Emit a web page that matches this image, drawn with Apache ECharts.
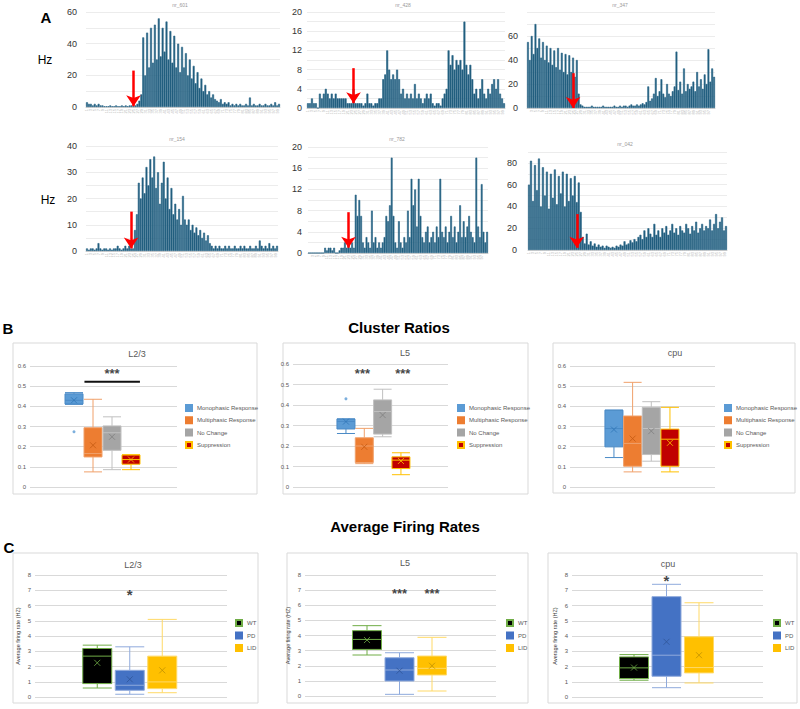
<!DOCTYPE html>
<html><head><meta charset="utf-8">
<script src="https://cdn.jsdelivr.net/npm/echarts@6/dist/echarts.min.js"></script>
<style>html,body{margin:0;padding:0;background:#fff}#c{width:800px;height:709px}</style>
</head><body><div id="c"></div>
<script>
// ================= DATA =================
// Panel A: firing-rate histograms (Hz per bin)
const nr601 = [3,2,2,1,2,1,2,1,1,0.5, 0.5,0.5,1,0.5,0.5,1,0.5,0.5,1,0.5, 1,0.5,1,1,0.5,1,2,4,8,
  44,20,47,25,50,28,52,30,56,32,50,35,54,30,48,28,45,25,40,22,
  38,25,34,20,30,18,26,15,22,12,18,10,14,8,10,6,8,5,
  4,3,5,2,3,2,3,1,2,1, 2,1,2,1,1,2,1,6,1,2, 1,1,2,1,1,2,1,1,2,1, 3,1,2];
const nr428 = [1,1,2,1,1,0,
  3,2,3,4,3,2,3,2,3,2,2,2,2,2,1,
  1,1,4,1,1,1,1,0.5,1,3,1,1,0.5,1,1,2,2,
  6,7,12,8,6,7,6,8,6,
  3,4,2,3,2,3,2,5,
  2,3,2,1,2,3,2,3,1,
  0.5,1,1,0.5,2,3,4,
  12,9,11,8,10,9,10,8,18,
  9,7,9,6,
  3,4,2,4,6,3,2,4,3,5,6,4,6,3,2,1];
const nr347 = [55,40,60,45,70,50,58,42,55,40,52,38,50,36,
  48,34,50,32,46,30,45,28,44,30,42,26,40,
  12,3,2,
  1,1,1,1,2,1,1,1,1,1, 2,1,1,1,1,1,2,1,1,2, 1,2,2,1,2,3,2,2,3,2, 3,4,3,
  5,18,6,8,12,25,10,14,24,12, 9,20,12,10,14,18,47,15,22,12, 33,14,20,16,18,22,14,30,18,24, 16,28,20,49,22,33,26];
const nr154 = [1,0.5,1,1,0.5,1,3,1,0.5,1, 1,0.5,1,0.5,1,1,2,1,0.5,1, 2,1,2,1,1,
  8,14,
  26,20,28,22,32,25,35,28,36,24,
  30,18,26,34,20,28,16,24,
  14,18,12,16,10,21,12,
  10,12,8,10,7,9,6,8,5,7,4,6,
  3,2,1,2,1,2,1,1,2,1, 2,1,1,2,1,1,2,1,2,1, 1,2,1,1,2,1,4,2,1,2, 1,3,1,2,1,2];
const nr782 = [0,0,0,0,0,0,0,0,0,
  1,0.5,1,1,0.5,1,
  0,0,0.5,1,
  1,2,1,2,1,2,1,
  11,7,10,7,
  2,1,3,2,1,8,2,3,1,2,1,2,3,
  7,6,9,18,7,
  2,1,6,2,1,3,2,
  8,3,14,9,12,5,14,7,
  3,2,4,5,2,3,4,2,5,3,14,4,
  3,5,2,4,7,3,5,2,4,9,3,
  6,3,5,7,4,3,2,
  18,5,3,13,4,2,4];
const nr042 = [60,82,45,78,55,84,40,76,50,72,38,70,48,74,
  42,68,52,72,40,70,45,66,50,68,44,62,35,
  12,6,15,
  5,8,4,6,3,5,3,4,2,4,3,2,3,2,4,3,
  5,4,8,5,6,9,7,10,8,12,
  14,10,18,12,20,15,12,24,14,18, 12,20,16,22,14,18,24,16,20,14,
  22,18,16,24,20,15,22,18,26,16, 20,24,18,22,20,28,18,24,33,20, 26,30,18,22];
// stimulus arrows: [bin index, arrow top (Hz), arrow tip (Hz)]
const arrow601 = [24, 23, 0.5];
const arrow428 = [23, 8.3, 1];
const arrow347 = [24, 29, 0];
const arrow154 = [23, 15, 1];
const arrow782 = [22, 7.7, 1];
const arrow042 = [24, 33, 2];

// Panel B: cluster ratios  [min, Q1, median, Q3, max]
const clusterGroups = ['Monophasic Response', 'Multiphasic Response', 'No Change', 'Suppression'];
const ratioL23 = [[0.41,0.411,0.43,0.462,0.468],[0.075,0.149,0.166,0.294,0.435],[0.086,0.182,0.269,0.303,0.348],[0.086,0.113,0.136,0.159,0.16]];
const ratioL23Mean = [0.43, 0.207, 0.249, 0.136];
const ratioL23Outliers = [[0, 0.274]];
const ratioL5 = [[0.261,0.283,0.32,0.332,0.332],[0.114,0.119,0.20,0.240,0.286],[0.245,0.258,0.368,0.425,0.477],[0.060,0.090,0.131,0.147,0.167]];
const ratioL5Mean = [0.319, 0.196, 0.351, 0.127];
const ratioL5Outliers = [[0, 0.43]];
const ratioCpu = [[0.146,0.199,0.290,0.381,0.381],[0.075,0.103,0.216,0.352,0.519],[0.128,0.161,0.290,0.395,0.423],[0.075,0.103,0.237,0.287,0.395]];
const ratioCpuMean = [0.285, 0.240, 0.277, 0.219];
const ratioCpuOutliers = [];
// significance marks: [x position in group units, y value, text]; bars: [x from, x to, y]
const sigRatioL23 = [[2.5, 0.565, '***']];
const barRatioL23 = [[1.05, 3.97, 0.522]];
const sigRatioL5 = [[1.4, 0.556, '***'], [3.6, 0.556, '***']];
const sigRatioCpu = [];

// Panel C: average firing rates (Hz)
const rateGroups = ['WT', 'PD', 'LID'];
const rateL23 = [[0.59,0.88,2.68,3.18,3.40],[0.18,0.44,0.77,1.75,3.29],[0.28,0.55,0.99,2.68,5.09]];
const rateL23Mean = [2.24, 1.16, 1.75];
const rateL5 = [[2.71,3.08,3.74,4.32,4.65],[0.11,0.99,1.72,2.53,2.86],[0.33,1.39,1.83,2.64,3.88]];
const rateL5Mean = [3.70, 1.67, 2.00];
const rateCpu = [[1.10,1.21,1.91,2.63,2.78],[0.61,1.36,2.74,6.58,7.39],[0.92,1.58,1.93,3.95,6.18]];
const rateCpuMean = [1.93, 3.62, 2.74];
const sigRateL23 = [[1.5, 6.7, '*']];
const sigRateL5 = [[1.5, 6.8, '***'], [2.5, 6.8, '***']];
const sigRateCpu = [[1.5, 7.65, '*']];

// ================= LAYOUT / STYLE =================
const FONT = 'Liberation Sans, Arial, sans-serif';
const binNames = n => Array.from({length: n}, (_, i) => String(i + 1));

const opt = {animation: false, backgroundColor: '#fff', textStyle: {fontFamily: FONT},
  grid: [], xAxis: [], yAxis: [], series: [], legend: [], graphic: []};
const addGrid = g => opt.grid.push(Object.assign({outerBoundsMode: 'none', containLabel: false, show: false}, g)) - 1;
const addX = a => opt.xAxis.push(a) - 1;
const addY = a => opt.yAxis.push(a) - 1;
const addText = (x, y, text, font, fill) => opt.graphic.push({type: 'text', x: x, y: y, silent: true,
  style: {text: text, font: font, fill: fill || '#000', align: 'center', verticalAlign: 'middle', textAlign: 'center', textVerticalAlign: 'middle'}});
const addFrame = (x, y, w, h) => opt.graphic.push({type: 'rect', silent: true, z: -10,
  shape: {x: x, y: y, width: w, height: h}, style: {fill: 'none', stroke: '#d9d9d9', lineWidth: 1}});

// ---------- Panel A ----------
const histLayout = [
  {name: 'nr_601', values: nr601, arrow: arrow601, max: 60, step: 10, every: 20, box: {left: 86, top: 12, width: 194, height: 95}, margin: 9, t: [180, 5]},
  {name: 'nr_428', values: nr428, arrow: arrow428, max: 20, step: 2, every: 4, box: {left: 307, top: 12, width: 198, height: 96}, margin: 5, t: [403, 5]},
  {name: 'nr_347', values: nr347, arrow: arrow347, max: 80, step: 10, every: 20, hideMax: true, box: {left: 527, top: 12, width: 188, height: 96}, margin: 9, t: [620, 5]},
  {name: 'nr_154', values: nr154, arrow: arrow154, max: 40, step: 5, every: 10, box: {left: 86, top: 146, width: 192, height: 105}, margin: 9, t: [177, 139]},
  {name: 'nr_782', values: nr782, arrow: arrow782, max: 20, step: 2, every: 4, box: {left: 308, top: 147, width: 180, height: 106}, margin: 6, t: [397, 139]},
  {name: 'nr_042', values: nr042, arrow: arrow042, max: 90, step: 10, every: 20, box: {left: 528, top: 152, width: 199, height: 98}, margin: 11, t: [625, 144]}
];
histLayout.forEach(h => {
  const gi = addGrid(h.box);
  const names = binNames(h.values.length);
  const xi = addX({type: 'category', gridIndex: gi, data: names,
    axisLine: {show: true, lineStyle: {color: '#d0d0d0', width: 1}}, axisTick: {show: false},
    axisLabel: {fontSize: 4, rotate: 90, color: '#b5b5b5', interval: 1, margin: 2}});
  const yi = addY({type: 'value', gridIndex: gi, min: 0, max: h.max, interval: h.step,
    axisLine: {show: false}, axisTick: {show: false},
    splitLine: {lineStyle: {color: '#ececec', width: 1}},
    axisLabel: {fontSize: 9, color: '#333', margin: h.margin,
      formatter: v => (v % h.every === 0 && !(h.hideMax && v === h.max)) ? String(v) : ''}});
  opt.series.push({type: 'bar', xAxisIndex: xi, yAxisIndex: yi, data: h.values, barCategoryGap: '0%', barGap: '0%',
    itemStyle: {color: '#1e5b7b', borderColor: '#2a6788', borderWidth: 0.6}, silent: true,
    markLine: {silent: true, symbol: ['none', 'arrow'], symbolSize: 11, label: {show: false},
      lineStyle: {color: '#ff0000', width: 2.5, type: 'solid'},
      data: [[{coord: [names[h.arrow[0]], h.arrow[1]]}, {coord: [names[h.arrow[0]], h.arrow[2]]}]]}});
  addText(h.t[0], h.t[1], h.name, '5px ' + FONT, '#999');
});
addText(46, 17, 'A', 'bold 15px ' + FONT);
addText(45, 60, 'Hz', '12px ' + FONT);
addText(48, 200, 'Hz', '12px ' + FONT);

// ---------- Box & whisker charts (panels B and C) ----------
function boxChart(c) {
  const gbg = addGrid(c.bg);
  addX({type: 'category', gridIndex: gbg, data: [''], show: false});
  addY({type: 'value', gridIndex: gbg, min: 0, max: c.max, interval: c.interval,
    axisLine: {show: false}, axisTick: {show: false},
    splitLine: {lineStyle: {color: '#d9d9d9', width: 1}},
    axisLabel: {fontSize: 6, color: '#595959', margin: 4, formatter: c.fmt},
    name: c.yName || '', nameLocation: 'middle', nameGap: 14, nameRotate: 90,
    nameTextStyle: {fontSize: 5.5, color: '#404040'}});
  const gfg = addGrid({left: c.fg.left, width: c.fg.width, top: c.bg.top, height: c.bg.height});
  const xc = addX({type: 'category', gridIndex: gfg, data: c.groups, show: false});
  const xv = addX({type: 'value', gridIndex: gfg, min: 0, max: c.groups.length, show: false});
  const yf = addY({type: 'value', gridIndex: gfg, min: 0, max: c.max, show: false});
  opt.series.push({type: 'boxplot', xAxisIndex: xc, yAxisIndex: yf, boxWidth: [c.boxW, c.boxW], silent: true,
    data: c.stats.map((s, i) => ({value: s, itemStyle: {color: c.colors[i].fill, borderColor: c.colors[i].line, borderWidth: 1}}))});
  opt.series.push({type: 'scatter', xAxisIndex: xc, yAxisIndex: yf, silent: true,
    symbol: 'path://M0,0L10,10M10,0L0,10', symbolSize: 6,
    data: c.means.map((m, i) => ({value: [c.groups[i], m], itemStyle: {color: 'none', borderColor: c.colors[i].mean, borderWidth: 1}}))});
  if (c.outliers.length) opt.series.push({type: 'scatter', xAxisIndex: xc, yAxisIndex: yf, silent: true, symbol: 'circle', symbolSize: 3,
    data: c.outliers.map(o => ({value: [c.groups[o[0]], o[1]], itemStyle: {color: c.colors[o[0]].fill}}))});
  c.groups.forEach((g, i) => opt.series.push({type: 'bar', name: g, xAxisIndex: xc, yAxisIndex: yf, data: [],
    itemStyle: {color: c.colors[i].fill, borderColor: c.colors[i].legendBorder || c.colors[i].fill, borderWidth: 1}}));
  if (c.sig.length) opt.series.push({type: 'scatter', xAxisIndex: xv, yAxisIndex: yf, silent: true, symbolSize: 1,
    itemStyle: {color: 'rgba(0,0,0,0)'},
    data: c.sig.map(s => ({value: [s[0], s[1]], label: {show: true, position: 'inside', formatter: s[2],
      fontSize: s[2].length === 1 ? 15 : 13, fontWeight: 'bold', color: '#111'}}))});
  (c.bars || []).forEach(b => opt.series.push({type: 'line', xAxisIndex: xv, yAxisIndex: yf, silent: true, symbol: 'none',
    lineStyle: {color: '#111', width: 2}, data: [[b[0], b[2]], [b[1], b[2]]]}));
  opt.legend.push({orient: 'vertical', left: c.legend[0], top: c.legend[1], data: c.groups, icon: 'rect',
    itemWidth: 6, itemHeight: 6, itemGap: c.legendGap, padding: 0, selectedMode: false,
    textStyle: {fontSize: 6, color: '#595959', lineHeight: 8}});
  addFrame(c.frame[0], c.frame[1], c.frame[2], c.frame[3]);
  addText(c.titleXY[0], c.titleXY[1], c.title, '9px ' + FONT, '#595959');
}

const clusterColors = [
  {fill: '#5b9bd5', line: '#4a8ac6', mean: '#2e75b6'},
  {fill: '#ed7d31', line: '#f0a06a', mean: '#c55a11'},
  {fill: '#a5a5a5', line: '#c0c0c0', mean: '#7f7f7f'},
  {fill: '#c00000', line: '#ffc000', mean: '#ffc000', legendBorder: '#ffc000'}
];
const rateColors = [
  {fill: '#000000', line: '#70ad47', mean: '#70ad47', legendBorder: '#70ad47'},
  {fill: '#4472c4', line: '#8faadc', mean: '#2f5597'},
  {fill: '#ffc000', line: '#ffd966', mean: '#bf9000'}
];
const fmtRatio = v => v === 0 ? '0' : v.toFixed(1);
const fmtRate = v => String(v);

const clusterCharts = [
  {title: 'L2/3', stats: ratioL23, means: ratioL23Mean, outliers: ratioL23Outliers, sig: sigRatioL23, bars: barRatioL23,
   bg: {left: 30, top: 366, width: 147, height: 121}, fg: {left: 64.5, width: 76}, frame: [13, 343, 244, 151], titleXY: [137, 354], legend: [185, 404]},
  {title: 'L5', stats: ratioL5, means: ratioL5Mean, outliers: ratioL5Outliers, sig: sigRatioL5,
   bg: {left: 293, top: 364, width: 155, height: 123}, fg: {left: 336.8, width: 73.3}, frame: [283, 343, 245, 151], titleXY: [405, 353], legend: [457, 404]},
  {title: 'cpu', stats: ratioCpu, means: ratioCpuMean, outliers: ratioCpuOutliers, sig: sigRatioCpu,
   bg: {left: 570, top: 366, width: 145, height: 121}, fg: {left: 604.6, width: 74.7}, frame: [553, 343, 242, 150], titleXY: [675, 353], legend: [724, 404]}
];
clusterCharts.forEach(c => boxChart(Object.assign({groups: clusterGroups, colors: clusterColors, max: 0.6, interval: 0.1, fmt: fmtRatio, boxW: 18, legendGap: 4.3}, c)));

const rateCharts = [
  {title: 'L2/3', stats: rateL23, means: rateL23Mean, sig: sigRateL23,
   bg: {left: 35, top: 575, width: 192, height: 122}, fg: {left: 81, width: 97.5}, frame: [13, 553, 245, 150], titleXY: [133, 565], legend: [235, 619]},
  {title: 'L5', stats: rateL5, means: rateL5Mean, sig: sigRateL5,
   bg: {left: 305, top: 575, width: 191, height: 121}, fg: {left: 350.75, width: 97.5}, frame: [287, 553, 241, 150], titleXY: [405, 563], legend: [506, 619]},
  {title: 'cpu', stats: rateCpu, means: rateCpuMean, sig: sigRateCpu,
   bg: {left: 572, top: 575, width: 191, height: 122}, fg: {left: 617.75, width: 97.5}, frame: [548, 553, 249, 150], titleXY: [668, 564], legend: [773, 619]}
];
rateCharts.forEach(c => boxChart(Object.assign({groups: rateGroups, colors: rateColors, max: 8, interval: 1, fmt: fmtRate, boxW: 29, legendGap: 4.5, outliers: [], yName: 'Average firing rate (HZ)'}, c)));

addText(8, 328, 'B', 'bold 15px ' + FONT);
addText(399, 327, 'Cluster Ratios', 'bold 15px ' + FONT);
addText(9, 547, 'C', 'bold 15px ' + FONT);
addText(405, 526, 'Average Firing Rates', 'bold 15px ' + FONT);

const chart = echarts.init(document.getElementById('c'), null, {renderer: 'svg', width: 800, height: 709});
chart.setOption(opt);
</script>
</body></html>
